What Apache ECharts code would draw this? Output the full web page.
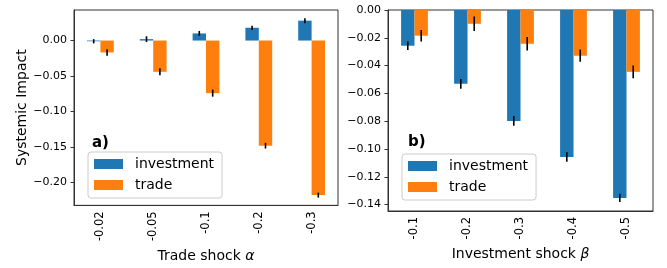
<!DOCTYPE html>
<html>
<head>
<meta charset="utf-8">
<script src="https://cdn.jsdelivr.net/npm/echarts@6/dist/echarts.min.js"></script>
<style>
html,body{margin:0;padding:0;background:#fff;}
#chart{width:667px;height:268px;}
</style>
</head>
<body>
<div id="chart"></div>
<script>
// panel a) trade shock
var tradeShocks = ['-0.02','-0.05','-0.1','-0.2','-0.3'];
var invA = [-0.001, 0.002, 0.010, 0.018, 0.028];
var invAErr = [0.003, 0.004, 0.0035, 0.003, 0.0035];
var tradeA = [-0.0167, -0.044, -0.074, -0.148, -0.2176];
var tradeAErr = [0.0046, 0.005, 0.005, 0.004, 0.0035];
var ticksA = [-0.20, -0.15, -0.10, -0.05, 0.00];

// panel b) investment shock
var invShocks = ['-0.1','-0.2','-0.3','-0.4','-0.5'];
var invB = [-0.0257, -0.0531, -0.0798, -0.1057, -0.1352];
var invBErr = [0.003, 0.0035, 0.0035, 0.0034, 0.003];
var tradeB = [-0.0185, -0.0099, -0.0243, -0.0329, -0.0445];
var tradeBErr = [0.0042, 0.0052, 0.0049, 0.0044, 0.0046];
var ticksB = [-0.14, -0.12, -0.10, -0.08, -0.06, -0.04, -0.02, 0.00];

var font = 'DejaVu Sans';
var blue = '#1f77b4', orange = '#ff7f0e';
var barW = 13.4;

function fmt(v){
	var s = Math.abs(v).toFixed(2);
	return (v < -1e-9 ? '\u2212' : '') + s;
}

function errData(vals, errs, side){
	var out = [];
	for (var i = 0; i < vals.length; i++) out.push([i, vals[i], errs[i], side]);
	return out;
}

function renderErr(params, api){
	var i = api.value(0), v = api.value(1), e = api.value(2), side = api.value(3);
	var p1 = api.coord([i, v - e]);
	var p2 = api.coord([i, v + e]);
	var x = p1[0] + side * barW / 2;
	return {
		type: 'line',
		shape: {x1: x, y1: p1[1], x2: x, y2: p2[1]},
		style: {stroke: '#000', lineWidth: 1.6}
	};
}

function xAx(idx, cats, name, gap){
	return {
		type: 'category', gridIndex: idx, data: cats,
		name: name, nameLocation: 'middle', nameGap: gap,
		nameTextStyle: {fontFamily: font, fontSize: 14, color: '#000',
			rich: {i: {fontFamily: font, fontSize: 14, fontStyle: 'italic', color: '#000'}}},
		axisLine: {onZero: false, lineStyle: {color: '#333', width: 1}},
		axisTick: {alignWithLabel: true, length: 3.5, lineStyle: {color: '#333'}},
		axisLabel: {rotate: 90, margin: 6, fontFamily: font, fontSize: 11.5, color: '#000'},
		splitLine: {show: false}
	};
}

function yAx(idx, min, max, ticks, name){
	return {
		type: 'value', gridIndex: idx, min: min, max: max,
		name: name, nameLocation: 'middle', nameGap: 45,
		nameTextStyle: {fontFamily: font, fontSize: 14, color: '#000'},
		axisLine: {show: true, lineStyle: {color: '#333', width: 1}},
		axisTick: {show: true, length: 3.5, customValues: ticks, lineStyle: {color: '#333'}},
		axisLabel: {margin: 7, fontFamily: font, fontSize: 11, color: '#000', customValues: ticks, formatter: fmt},
		splitLine: {show: false}
	};
}

function legendAt(left, top){
	return {
		left: left, top: top, orient: 'vertical',
		data: ['investment', 'trade'],
		icon: 'rect', itemWidth: 29, itemHeight: 10, itemGap: 7,
		padding: [5, 8, 6, 6],
		backgroundColor: 'rgba(255,255,255,0.8)',
		borderColor: '#ccc', borderWidth: 1, borderRadius: 3,
		textStyle: {fontFamily: font, fontSize: 14, color: '#000', padding: [0, 0, 0, 7]},
		selectedMode: false
	};
}

var dom = document.getElementById('chart');
var myChart = echarts.init(dom, null, {renderer: 'canvas'});
var option = {
	animation: false,
	backgroundColor: '#fff',
	title: [
		{text: 'a)', left: 87, top: 131, textStyle: {fontFamily: font, fontSize: 15, fontWeight: 'bold', color: '#000'}},
		{text: 'b)', left: 403, top: 130, textStyle: {fontFamily: font, fontSize: 15, fontWeight: 'bold', color: '#000'}}
	],
	legend: [legendAt(88, 152), legendAt(402, 154)],
	grid: [
		{left: 74, top: 10, width: 264, height: 198, show: true, borderColor: '#333', borderWidth: 1, backgroundColor: 'transparent'},
		{left: 388, top: 10, width: 265, height: 201, show: true, borderColor: '#333', borderWidth: 1, backgroundColor: 'transparent'}
	],
	xAxis: [
		xAx(0, tradeShocks, 'Trade shock {i|\u03b1}', 38),
		xAx(1, invShocks, 'Investment shock {i|\u03b2}', 30)
	],
	yAxis: [
		yAx(0, -0.232, 0.043, ticksA, 'Systemic Impact'),
		yAx(1, -0.1446, 0, ticksB, '')
	],
	series: [
		{name: 'investment', type: 'bar', xAxisIndex: 0, yAxisIndex: 0, data: invA, barWidth: barW, barGap: '0%', itemStyle: {color: blue}},
		{name: 'trade', type: 'bar', xAxisIndex: 0, yAxisIndex: 0, data: tradeA, barWidth: barW, barGap: '0%', itemStyle: {color: orange}},
		{name: 'investment', type: 'bar', xAxisIndex: 1, yAxisIndex: 1, data: invB, barWidth: barW, barGap: '0%', itemStyle: {color: blue}},
		{name: 'trade', type: 'bar', xAxisIndex: 1, yAxisIndex: 1, data: tradeB, barWidth: barW, barGap: '0%', itemStyle: {color: orange}},
		{type: 'custom', xAxisIndex: 0, yAxisIndex: 0, renderItem: renderErr, data: errData(invA, invAErr, -1), z: 10},
		{type: 'custom', xAxisIndex: 0, yAxisIndex: 0, renderItem: renderErr, data: errData(tradeA, tradeAErr, 1), z: 10},
		{type: 'custom', xAxisIndex: 1, yAxisIndex: 1, renderItem: renderErr, data: errData(invB, invBErr, -1), z: 10},
		{type: 'custom', xAxisIndex: 1, yAxisIndex: 1, renderItem: renderErr, data: errData(tradeB, tradeBErr, 1), z: 10}
	]
};
if (option && typeof option === "object") {
	myChart.setOption(option, true);
}
</script>
</body>
</html>
